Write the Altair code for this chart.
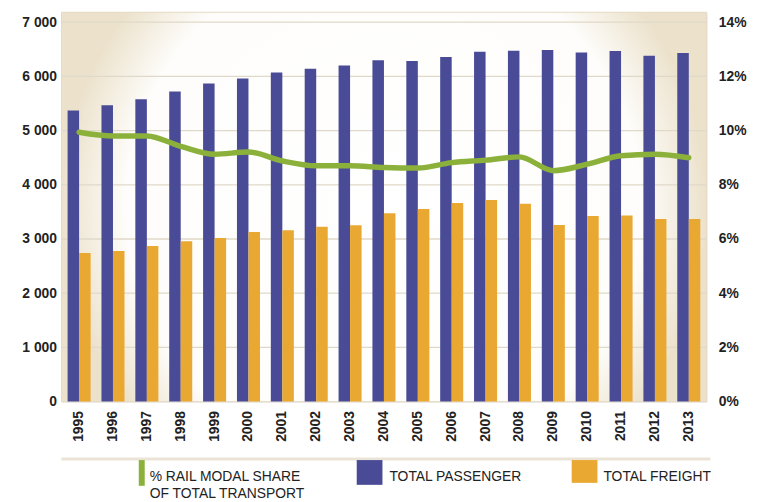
import altair as alt
import pandas as pd

years = [str(y) for y in range(1995, 2014)]
passenger = [5370, 5470, 5580, 5720, 5870, 5960, 6070, 6140, 6200, 6300, 6285,
             6360, 6455, 6475, 6485, 6440, 6470, 6380, 6430]
freight = [2740, 2780, 2870, 2960, 3020, 3130, 3160, 3225, 3255, 3475, 3555,
           3665, 3720, 3650, 3260, 3425, 3436, 3368, 3368]
rail_share = [9.94, 9.8, 9.8, 9.42, 9.13, 9.21, 8.88, 8.7, 8.7, 8.64, 8.62,
              8.82, 8.91, 9.03, 8.52, 8.76, 9.07, 9.13, 9.0]
left_ticks = [0, 1000, 2000, 3000, 4000, 5000, 6000, 7000]
right_ticks = [0, 2, 4, 6, 8, 10, 12, 14]
series_names = ["TOTAL PASSENGER", "TOTAL FREIGHT"]
series_colors = ["#4a4b97", "#e9a832"]
line_color = "#8bb13b"

bars_df = pd.DataFrame({
    "year": years * 2,
    "series": [series_names[0]] * len(years) + [series_names[1]] * len(years),
    "value": passenger + freight,
})
line_df = pd.DataFrame({"year": years, "share": rail_share})
grid_df = pd.DataFrame({"value": left_ticks[1:]})

FONT = "Liberation Sans"
W = 651
H = 393
left_max = 7000 * H / 383
right_max = 14 * H / 383
yscale_left = alt.Scale(domain=[0, left_max], nice=False)
left_axis = alt.Axis(title=None, values=left_ticks, labelFont=FONT, labelFontSize=14,
                     labelFontWeight="bold", labelColor="#222222", ticks=False,
                     domain=False, labelPadding=5, grid=False,
                     labelExpr="replace(format(datum.value, ',d'), ',', ' ')")

x_enc = alt.X("year:N", sort=years,
              scale=alt.Scale(paddingInner=0.32, paddingOuter=0.18),
              axis=alt.Axis(title=None, labelAngle=-90, labelFont=FONT, labelFontSize=14,
                            labelFontWeight="bold", labelColor="#222222", ticks=False,
                            domain=False, labelPadding=9, labelBaseline="middle",
                            labelAlign="right"))

bg = alt.Chart(pd.DataFrame({"k": [0]})).mark_rect(
    color={"gradient": "radial", "x1": 0.5, "y1": 0.5, "r1": 0, "x2": 0.5, "y2": 0.5,
           "r2": 0.5,
           "stops": [{"offset": 0, "color": "#ffffff"}, {"offset": 0.8, "color": "#fefdfb"},
                     {"offset": 1, "color": "#ece2cc"}]},
    stroke="#e6dbc3", strokeWidth=1,
).encode(x=alt.value(0), x2=alt.value(W), y=alt.value(0), y2=alt.value(H))

grid = alt.Chart(grid_df).mark_rule(color="#e0d9c9", strokeWidth=1.3).encode(
    y=alt.Y("value:Q", scale=yscale_left, axis=left_axis),
    x=alt.value(0), x2=alt.value(W),
)

bars = alt.Chart(bars_df).mark_bar().encode(
    x=x_enc,
    xOffset=alt.XOffset("series:N", sort=series_names,
                        scale=alt.Scale(paddingInner=0, paddingOuter=0)),
    y=alt.Y("value:Q", scale=yscale_left, axis=left_axis),
    color=alt.Color("series:N", scale=alt.Scale(domain=series_names, range=series_colors),
                    legend=None),
)

line = alt.Chart(line_df).mark_line(
    color=line_color, strokeWidth=5.5, interpolate="monotone", strokeCap="round"
).encode(
    x=alt.X("year:N", sort=years),
    y=alt.Y("share:Q", scale=alt.Scale(domain=[0, right_max], nice=False),
            axis=alt.Axis(title=None, orient="right", values=right_ticks, labelFont=FONT,
                          labelFontSize=14, labelFontWeight="bold", labelColor="#222222",
                          ticks=False, domain=False, labelPadding=12, grid=False,
                          labelExpr="datum.value + '%'")),
)

# custom legend
shadow = alt.Chart(pd.DataFrame({"k": [0]})).mark_rule(
    color="#e9e1d1", strokeWidth=3, opacity=0.9
).encode(x=alt.value(0), x2=alt.value(655), y=alt.value(451))

leg_x = [78, 298, 515]
leg_x2 = [84, 324, 541]
leg_y2 = [478, 477, 475]
leg_c = [line_color] + series_colors
leg_rects = [
    alt.Chart(pd.DataFrame({"k": [i]})).mark_rect(color=leg_c[i]).encode(
        x=alt.value(leg_x[i]), x2=alt.value(leg_x2[i]),
        y=alt.value(452), y2=alt.value(leg_y2[i]))
    for i in range(3)
]
legend_labels = [
    (["% RAIL MODAL SHARE", "OF TOTAL TRANSPORT"], 89),
    (["TOTAL PASSENGER"], 331),
    (["TOTAL FREIGHT"], 547),
]
leg_texts = [
    alt.Chart(pd.DataFrame({"k": [0]})).mark_text(
        font=FONT, fontSize=14, color="#222222", align="left", baseline="top",
        lineHeight=17, text=lbl
    ).encode(x=alt.value(xp), y=alt.value(462))
    for lbl, xp in legend_labels
]

left = alt.layer(bg, grid, bars)
main = alt.layer(left, line).resolve_scale(y="independent")
chart = alt.layer(main, shadow, *leg_rects, *leg_texts).properties(
    width=W, height=H,
    autosize=alt.AutoSizeParams(type="none"),
    padding={"left": 54, "top": 2, "right": 44, "bottom": 99},
).configure_view(stroke=None).configure(background="#ffffff")

chart.save("out.html", embed_options={"renderer": "svg", "actions": False})
